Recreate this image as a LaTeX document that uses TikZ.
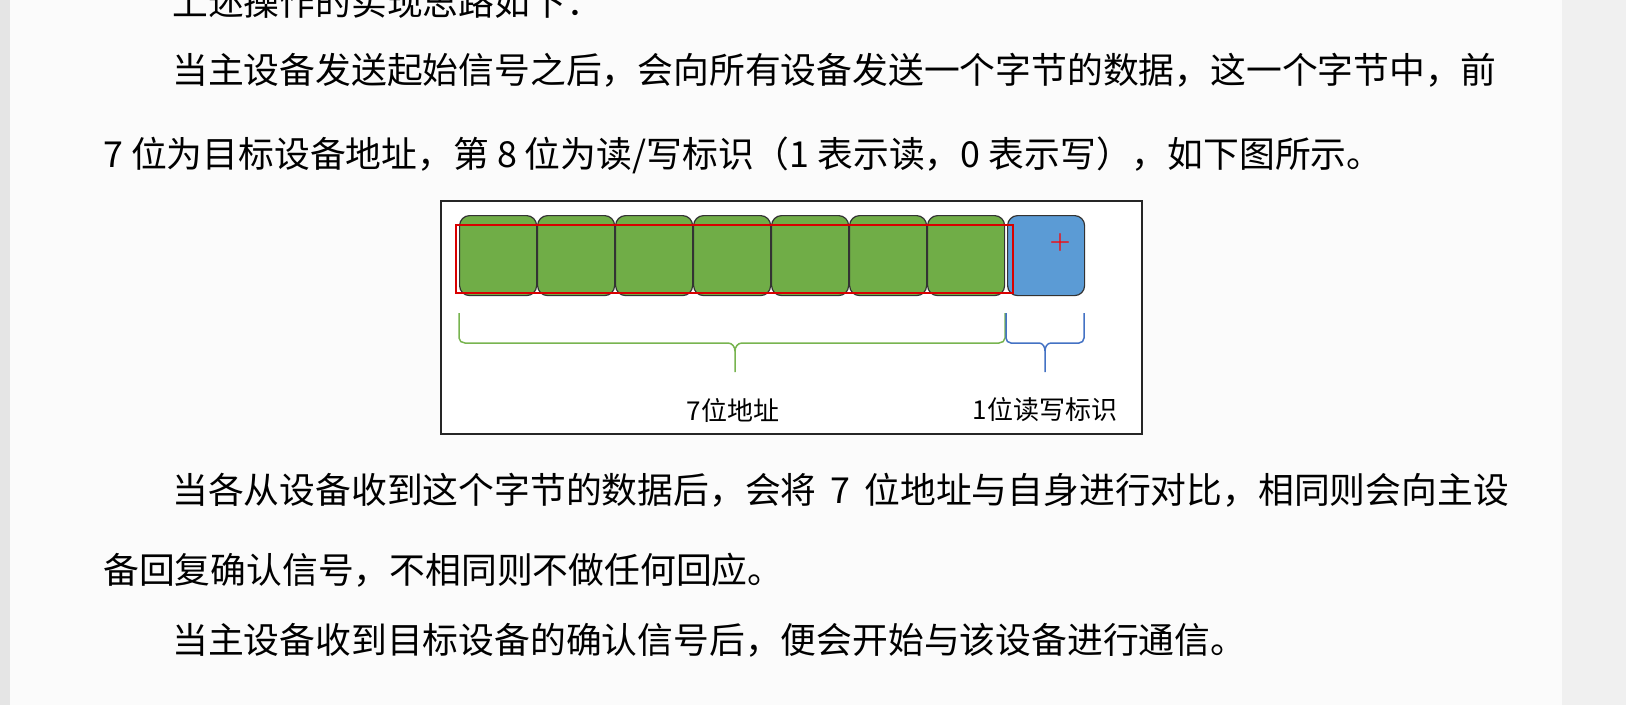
\documentclass[tikz,border=0pt]{standalone}
\usepackage{fontspec}
\newfontfamily\cjk{Noto Sans CJK SC}
\usepackage{xcolor}
\definecolor{bitGreen}{RGB}{112,173,71}
\definecolor{bitBlue}{RGB}{91,155,213}
\definecolor{braceGreen}{RGB}{120,180,80}
\definecolor{braceBlue}{RGB}{68,114,196}
\tikzset{
  para/.style={anchor=west, inner sep=0pt, font=\cjk\fontsize{35.8}{40}\selectfont},
  bitcell/.style={draw=black!80, line width=1.2pt, rounded corners=10pt,
    minimum width=77pt, minimum height=80pt, inner sep=0pt, anchor=north west},
  label/.style={inner sep=0pt, font=\cjk\fontsize{26}{30}\selectfont},
}
\begin{document}
\begin{tikzpicture}[x=1pt,y=-1pt]
\useasboundingbox (0,0) rectangle (1626,705);
\fill[white!97!gray] (0,0) rectangle (1626,705);
\fill[black!10] (0,0) rectangle (10,705);
\fill[black!6] (1562,0) rectangle (1626,705);

%%%%%%%%%%%%%%%%%%%%%%%%%%%%%%%%%%%%%%%%%%%%%%%%%%%%%%%%%%%%%% Text
\begin{scope}
\clip (0,0) rectangle (1626,705);
\node[para] (l0) at (172,2) {上述操作的实现思路如下：};
\end{scope}
\node[para] (l1) at (172,70) {当主设备发送起始信号之后，会向所有设备发送一个字节的数据，这一个字节中，前};
\node[para] (l2) at (103,155) {7 位为目标设备地址，第 8 位为读/写标识（1 表示读，0 表示写），如下图所示。};
\node[para] (l3) at (172,490) {当各从设备收到这个字节的数据后，会将 \,7\, 位地址与自身进行对比，相同则会向主设};
\node[para] (l4) at (103,570) {备回复确认信号，不相同则不做任何回应。};
\node[para] (l5) at (172,640) {当主设备收到目标设备的确认信号后，便会开始与该设备进行通信。};

%%%%%%%%%%%%%%%%%%%%%%%%%%%%%%%%%%%%%%%%%%%%%%%%%%%%%%%%%%%%%% Byte
\draw[black!85, line width=1.5pt, fill=white] (441,201) rectangle (1142,434);
\foreach \i in {1,...,7}
  \node[bitcell, fill=bitGreen] (bit\i) at ({459+(\i-1)*78},215) {};
\node[bitcell, fill=bitBlue] (rw) at (1007,215) {};
\draw[red!85!black, line width=1.5pt] (456,225) rectangle (1013,293);
\node[text=red, font=\bfseries\fontsize{24}{24}\selectfont, inner sep=0pt] (plus) at (1060,243) {+};

% braces
\draw[braceGreen, line width=1.5pt] (459,313) -- (459,338) to[out=-90,in=180] (465,343)
  -- (728,343) to[out=0,in=90] (735,351) -- (735,372);
\draw[braceGreen, line width=1.5pt] (1005,313) -- (1005,338) to[out=-90,in=0] (999,343)
  -- (742,343) to[out=180,in=90] (735,351);
\draw[braceBlue, line width=1.5pt] (1006,313) -- (1006,338) to[out=-90,in=180] (1011,343)
  -- (1039,343) to[out=0,in=90] (1045,351) -- (1045,372);
\draw[braceBlue, line width=1.5pt] (1084,313) -- (1084,338) to[out=-90,in=0] (1079,343)
  -- (1051,343) to[out=180,in=90] (1045,351);

\node[label] (addr) at (733,410) {7位地址};
\node[label] (rwlabel) at (1045,410) {1位读写标识};
\end{tikzpicture}
\end{document}
